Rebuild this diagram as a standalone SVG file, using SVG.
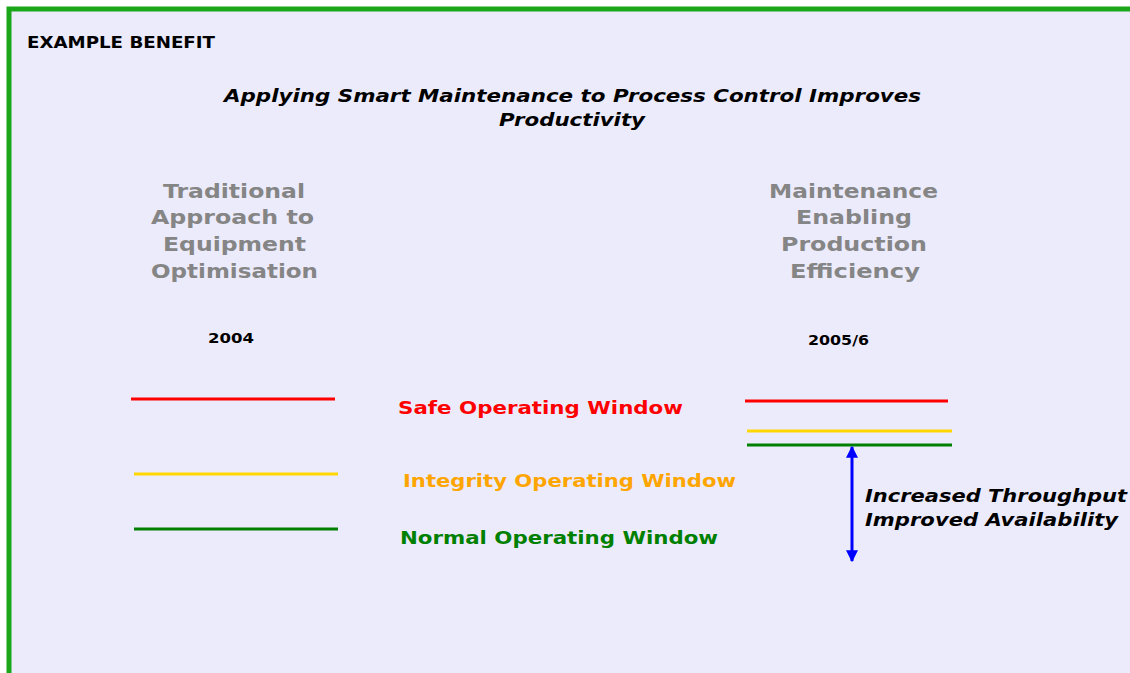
<svg xmlns="http://www.w3.org/2000/svg" width="1130" height="673" viewBox="0 0 1130 673">
<style>
text{lengthAdjust:spacingAndGlyphs}
.head{font-family:"DejaVu Sans",Verdana,sans-serif;font-weight:bold;font-size:19px;fill:#858585}
.lbl{font-family:"DejaVu Sans",Verdana,sans-serif;font-weight:bold;font-size:18px}
.yr{font-family:"DejaVu Sans",Verdana,sans-serif;font-weight:bold;font-size:14px;fill:#000}
.it{font-family:"DejaVu Sans",Verdana,sans-serif;font-style:italic;font-weight:bold;fill:#000}
line{stroke-width:3}
</style>
<defs>
<marker id="ah" viewBox="0 0 10 10" refX="9" refY="5" markerWidth="4" markerHeight="4" orient="auto-start-reverse" markerUnits="strokeWidth">
<path d="M0,0 L10,5 L0,10 z" fill="#0000ff"/>
</marker>
</defs>
<rect width="1130" height="673" fill="#ffffff"/>
<rect x="9" y="9" width="1130" height="680" fill="#ecebfc" stroke="#19a619" stroke-width="5"/>
<g id="header">
<text x="27" y="48" font-family="DejaVu Sans,sans-serif" font-weight="bold" font-size="15" fill="#000" textLength="188" lengthAdjust="spacingAndGlyphs">EXAMPLE BENEFIT</text>
<text class="it" x="224" y="102" font-size="18.5" textLength="697" lengthAdjust="spacingAndGlyphs">Applying Smart Maintenance to Process Control Improves</text>
<text class="it" x="499" y="126" font-size="18.5" textLength="146" lengthAdjust="spacingAndGlyphs">Productivity</text>
</g>
<g id="left-heading">
<text class="head" x="163" y="198" textLength="142" lengthAdjust="spacingAndGlyphs">Traditional</text>
<text class="head" x="151" y="224" textLength="163" lengthAdjust="spacingAndGlyphs">Approach to</text>
<text class="head" x="163" y="251" textLength="143" lengthAdjust="spacingAndGlyphs">Equipment</text>
<text class="head" x="151" y="278" textLength="167" lengthAdjust="spacingAndGlyphs">Optimisation</text>
<text class="yr" x="208" y="343" textLength="46" lengthAdjust="spacingAndGlyphs">2004</text>
</g>
<g id="right-heading">
<text class="head" x="769" y="198" textLength="169" lengthAdjust="spacingAndGlyphs">Maintenance</text>
<text class="head" x="796" y="224" textLength="116" lengthAdjust="spacingAndGlyphs">Enabling</text>
<text class="head" x="781" y="251" textLength="146" lengthAdjust="spacingAndGlyphs">Production</text>
<text class="head" x="790" y="278" textLength="130" lengthAdjust="spacingAndGlyphs">Efficiency</text>
<text class="yr" x="808" y="345" textLength="61" lengthAdjust="spacingAndGlyphs">2005/6</text>
</g>
<g id="labels">
<text class="lbl" x="398" y="414" fill="#ff0000" textLength="285" lengthAdjust="spacingAndGlyphs">Safe Operating Window</text>
<text class="lbl" x="403" y="487" fill="#ffa500" textLength="333" lengthAdjust="spacingAndGlyphs">Integrity Operating Window</text>
<text class="lbl" x="400" y="544" fill="#008000" textLength="318" lengthAdjust="spacingAndGlyphs">Normal Operating Window</text>
<text class="it" x="865" y="502" font-size="17.5" textLength="262" lengthAdjust="spacingAndGlyphs">Increased Throughput</text>
<text class="it" x="865" y="526" font-size="17.5" textLength="253" lengthAdjust="spacingAndGlyphs">Improved Availability</text>
</g>
<g id="connectors">
<line x1="131" y1="399" x2="335" y2="399" stroke="#ff0000"/>
<line x1="134" y1="474" x2="338" y2="474" stroke="#ffd700"/>
<line x1="134" y1="529" x2="338" y2="529" stroke="#008000"/>
<line x1="745" y1="401" x2="948" y2="401" stroke="#ff0000"/>
<line x1="747" y1="431" x2="952" y2="431" stroke="#ffd700"/>
<line x1="747" y1="445" x2="952" y2="445" stroke="#008000"/>
<line x1="852" y1="447" x2="852" y2="561" stroke="#0000ff" marker-start="url(#ah)" marker-end="url(#ah)"/>
</g>
</svg>
